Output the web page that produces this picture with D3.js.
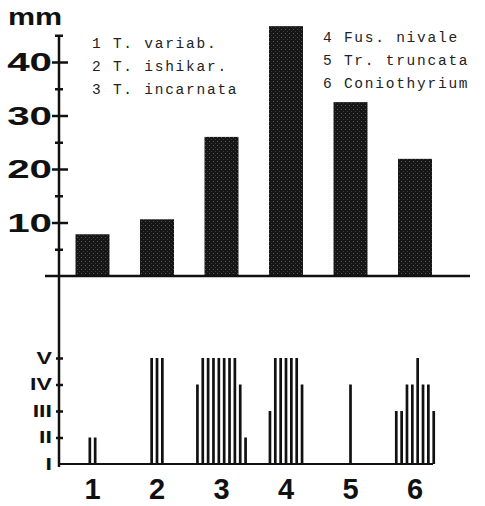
<!DOCTYPE html>
<html>
<head>
<meta charset="utf-8">
<script src="https://cdn.jsdelivr.net/npm/d3@7"></script>
<style>
  body { margin: 0; background: #fff; }
  svg { display: block; }
  .lab { font-family: "Liberation Sans", Arial, sans-serif; font-weight: bold; fill: #111; }
  .leg { font-family: "Liberation Mono", "Courier New", monospace; font-size: 14.5px; letter-spacing: 1.75px; fill: #222; }
</style>
</head>
<body>
<svg id="chart" width="485" height="506"></svg>
<script>
// groups and legend names
var groups = ["1", "2", "3", "4", "5", "6"];
var names = ["T. variab.", "T. ishikar.", "T. incarnata", "Fus. nivale", "Tr. truncata", "Coniothyrium"];
// bar heights, mm
var growth = [7.8, 10.6, 26, 46.7, 32.5, 21.9];
// class of each isolate, 1 = I ... 5 = V
var isolates = [
  [2, 2],
  [5, 5, 5],
  [4, 5, 5, 5, 5, 5, 5, 5, 4, 2],
  [3, 5, 5, 5, 5, 5, 4],
  [4],
  [3, 3, 4, 4, 5, 4, 4, 3]
];
var mmTicks = [10, 20, 30, 40];
var mmMinor = [5, 15, 25, 35, 45];
var classTicks = [1, 2, 3, 4, 5];
var classLabels = ["I", "II", "III", "IV", "V"];

var svg = d3.select("#chart");

var defs = svg.append("defs");
var pat = defs.append("pattern").attr("id", "stip")
  .attr("width", 4).attr("height", 4).attr("patternUnits", "userSpaceOnUse");
pat.append("rect").attr("width", 4).attr("height", 4).attr("fill", "#161616");
pat.append("rect").attr("x", 1).attr("y", 1).attr("width", 1).attr("height", 1).attr("fill", "#555");
pat.append("rect").attr("x", 3).attr("y", 3).attr("width", 1).attr("height", 1).attr("fill", "#3a3a3a");

var axisX = 59;

var x = d3.scaleBand().domain(groups).range([60.25, 447.25])
  .paddingInner(0.473).paddingOuter(0.2365);
var y = d3.scaleLinear().domain([0, 45]).range([276, 35.25]);
var yc = d3.scaleLinear().domain([1, 5]).range([464, 358]);
var step = d3.scaleLinear().domain([0, 1]).range([0, 5.35]);

// bars
svg.selectAll(".bar")
  .data(growth)
  .enter().append("rect")
  .attr("class", "bar")
  .attr("x", function(d, i) { return x(groups[i]); })
  .attr("width", x.bandwidth())
  .attr("y", function(d) { return y(d); })
  .attr("height", function(d) { return y(0) - y(d); })
  .attr("fill", "url(#stip)");

// baselines
svg.append("line").attr("x1", 45).attr("x2", 470).attr("y1", y(0)).attr("y2", y(0))
  .attr("stroke", "#111").attr("stroke-width", 2.5);
svg.append("line").attr("x1", axisX).attr("x2", 433).attr("y1", yc(1)).attr("y2", yc(1))
  .attr("stroke", "#111").attr("stroke-width", 2);
// the one vertical axis for both panels
svg.append("line").attr("x1", axisX).attr("x2", axisX).attr("y1", y(45)).attr("y2", 467)
  .attr("stroke", "#111").attr("stroke-width", 2.5);

// top axis ticks
var gMajor = svg.append("g").attr("transform", "translate(" + axisX + ",0)")
  .call(d3.axisLeft(y).tickValues(mmTicks).tickSize(7).tickFormat(""));
gMajor.select(".domain").remove();
gMajor.selectAll(".tick line").attr("x1", 9).attr("stroke", "#111").attr("stroke-width", 2.5);

var gMinor = svg.append("g").attr("transform", "translate(" + axisX + ",0)")
  .call(d3.axisLeft(y).tickValues(mmMinor).tickSize(4).tickFormat(""));
gMinor.select(".domain").remove();
gMinor.selectAll(".tick line").attr("x1", 4).attr("stroke", "#111").attr("stroke-width", 2.5);

svg.selectAll(".mmlab")
  .data(mmTicks)
  .enter().append("text")
  .attr("class", "lab")
  .attr("transform", function(d) { return "translate(52," + (y(d) + 9.3) + ") scale(1.55,1)"; })
  .attr("text-anchor", "end")
  .attr("font-size", 26)
  .text(function(d) { return d; });

svg.append("text").attr("class", "lab")
  .attr("transform", "translate(8,25) scale(1.27,1)")
  .attr("font-size", 24)
  .text("mm");

// bottom axis ticks
var gc = svg.append("g").attr("transform", "translate(" + axisX + ",0)")
  .call(d3.axisLeft(yc).tickValues(classTicks.slice(1)).tickSize(3).tickFormat(""));
gc.select(".domain").remove();
gc.selectAll(".tick line").attr("x1", 4).attr("stroke", "#111").attr("stroke-width", 2.5);

svg.selectAll(".clab")
  .data(classTicks)
  .enter().append("text")
  .attr("class", "lab")
  .attr("transform", function(d) { return "translate(52," + (yc(d) + 5.8) + ") scale(1.45,1)"; })
  .attr("text-anchor", "end")
  .attr("font-size", 16)
  .text(function(d, i) { return classLabels[i]; });

// isolate lines
isolates.forEach(function(list, gi) {
  var cx = x(groups[gi]) + x.bandwidth() / 2;
  svg.selectAll(".iso" + gi)
    .data(list)
    .enter().append("line")
    .attr("x1", function(d, i) { return cx + step(i - (list.length - 1) / 2); })
    .attr("x2", function(d, i) { return cx + step(i - (list.length - 1) / 2); })
    .attr("y1", yc(1))
    .attr("y2", function(d) { return yc(d); })
    .attr("stroke", "#111")
    .attr("stroke-width", 2.7);
});

// group numbers
svg.selectAll(".glab")
  .data(groups)
  .enter().append("text")
  .attr("class", "lab")
  .attr("x", function(d) { return x(d) + x.bandwidth() / 2; })
  .attr("y", 499)
  .attr("text-anchor", "middle")
  .attr("font-size", 29)
  .text(function(d) { return d; });

// legend
svg.selectAll(".leg")
  .data(names)
  .enter().append("text")
  .attr("class", "leg")
  .attr("x", function(d, i) { return i < 3 ? 92 : 323; })
  .attr("y", function(d, i) { return i < 3 ? 47.5 + i * 23.2 : 41.5 + (i - 3) * 23; })
  .text(function(d, i) { return groups[i] + " " + d; });
</script>
</body>
</html>
